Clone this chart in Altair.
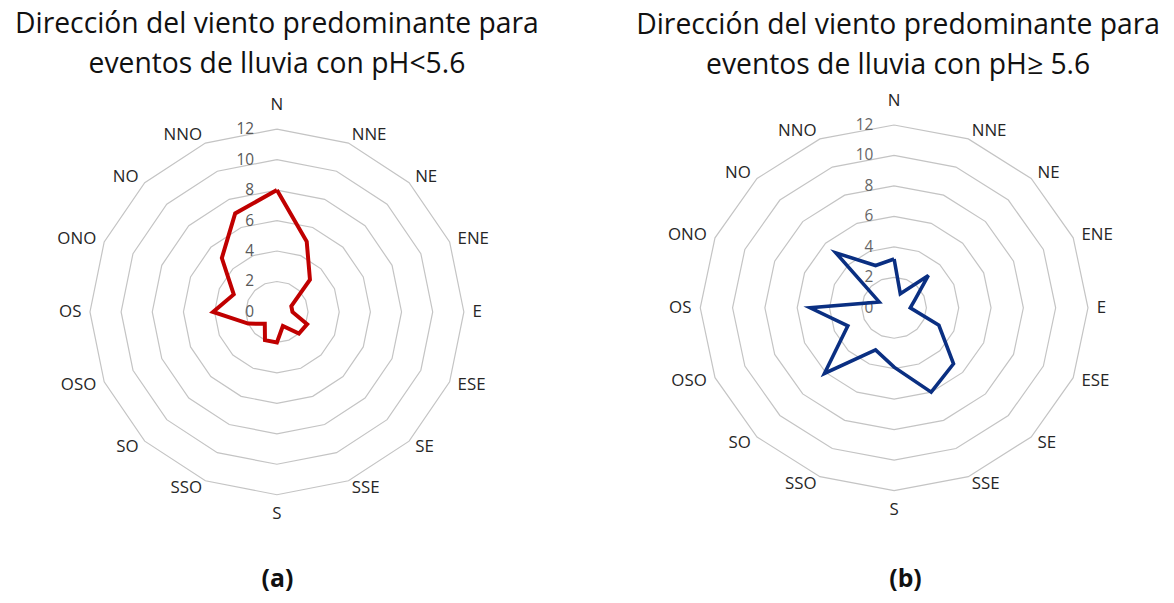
import altair as alt
import pandas as pd

# ---------------- data ----------------
directions = ["N", "NNE", "NE", "ENE", "E", "ESE", "SE", "SSE",
              "S", "SSO", "SO", "OSO", "OS", "ONO", "NO", "NNO"]
ph_low = [8, 5, 3, 1, 1, 2.1, 2, 1, 2, 2, 1.1, 2, 4.1, 3, 5, 7]
ph_high = [3.2, 1, 3, 1.4, 1, 3, 5.2, 6, 3.9, 3, 6.1, 3.1, 5.2, 1, 5.1, 3]
ring_levels = [2, 4, 6, 8, 10, 12]
tick_values = [0, 2, 4, 6, 8, 10, 12]
title_a = ["Dirección del viento predominante para", "eventos de lluvia con pH<5.6"]
title_b = ["Dirección del viento predominante para", "eventos de lluvia con pH≥ 5.6"]
letter_a = "(a)"
letter_b = "(b)"

N_DIR = len(directions)
FONT = "Open Sans"


def panel(values, color, stroke_w, title_lines, title_dx, title_dy, letter, width,
          height, xdom, ydom, tick_color, tick_dx):
    xs = alt.Scale(domain=xdom, nice=False, zero=False)
    ys = alt.Scale(domain=ydom, nice=False, zero=False)
    ang = f"datum.k * 2 * PI / {N_DIR}"
    half = N_DIR // 2

    ring_df = pd.DataFrame([{"level": L, "k": k} for L in ring_levels
                            for k in range(N_DIR + 1)])
    rings = alt.Chart(ring_df).transform_calculate(
        px=f"datum.level * sin({ang})", py=f"datum.level * cos({ang})"
    ).mark_line(color="#c4c4c4", strokeWidth=1.2).encode(
        x=alt.X("px:Q", scale=xs,
                axis=alt.Axis(labels=False, ticks=False, domain=False, grid=False,
                              title=letter, titleFont=FONT, titleFontSize=25,
                              titleFontWeight="bold", titleColor="#111111",
                              titlePadding=44)),
        y=alt.Y("py:Q", scale=ys, axis=None),
        detail="level:N",
        order="k:Q",
    )

    s_df = pd.DataFrame({"dir": directions + [directions[0]],
                         "value": values + [values[0]],
                         "k": list(range(N_DIR + 1))})
    series = alt.Chart(s_df).transform_calculate(
        px=f"datum.value * sin({ang})", py=f"datum.value * cos({ang})"
    ).mark_line(color=color, strokeWidth=stroke_w, strokeJoin="miter").encode(
        x=alt.X("px:Q", scale=xs), y=alt.Y("py:Q", scale=ys), order="k:Q")

    l_df = pd.DataFrame({"dir": directions, "k": list(range(N_DIR))})
    lab_base = alt.Chart(l_df).transform_calculate(
        lr=f"datum.k == 0 ? 13.6 : (datum.k == {half} ? 13.3 : 12.55)"
    ).transform_calculate(
        px=f"datum.lr * sin({ang})", py=f"datum.lr * cos({ang})"
    )
    enc = dict(x=alt.X("px:Q", scale=xs), y=alt.Y("py:Q", scale=ys), text="dir:N")
    tstyle = dict(font=FONT, fontSize=17, color="#262626", baseline="middle")
    lab_c = lab_base.transform_filter(f"datum.k == 0 || datum.k == {half}").mark_text(
        align="center", **tstyle).encode(**enc)
    lab_e = lab_base.transform_filter(f"datum.k > 0 && datum.k < {half}").mark_text(
        align="left", **tstyle).encode(**enc)
    lab_w = lab_base.transform_filter(f"datum.k > {half}").mark_text(
        align="right", **tstyle).encode(**enc)

    t_df = pd.DataFrame({"v": tick_values})
    ticks = alt.Chart(t_df).transform_calculate(zero="0").mark_text(
        font=FONT, fontSize=15.5, color=tick_color, align="right", baseline="middle",
        dx=tick_dx).encode(
        x=alt.X("zero:Q", scale=xs), y=alt.Y("v:Q", scale=ys), text="v:Q")

    return alt.layer(rings, ticks, series, lab_c, lab_e, lab_w).properties(
        width=width, height=height,
        title=alt.TitleParams(text=title_lines, font=FONT, fontSize=28.5,
                              fontWeight="normal", lineHeight=40, anchor="middle",
                              color="#111111", offset=16.5, dx=title_dx,
                              dy=title_dy),
    )


H = 432
Wa = 542
Wb = 526
# horizontal / vertical pixels per unit
ax, ay = 15.7, 15.35
bx, by = 16.28, 15.35
chart_a = panel(ph_low, "#C00000", 4, title_a, 0, 0, letter_a, Wa, H,
                [-271 / ax, 271 / ax], [-213 / ay, 219 / ay],
                "#595959", -23)
chart_b = panel(ph_high, "#0A2F82", 3.6, title_b, -7, 4, letter_b, Wb, H,
                [-252 / bx, 274 / bx], [-217.2 / by, 214.8 / by],
                "#666666", -21)

chart = alt.hconcat(chart_a, chart_b, spacing=90).properties(
    padding={"left": 0, "top": 0, "right": 0, "bottom": 4}, background="white"
).configure_view(stroke=None)

chart.save("out.html", embed_options={"renderer": "svg", "actions": False})
